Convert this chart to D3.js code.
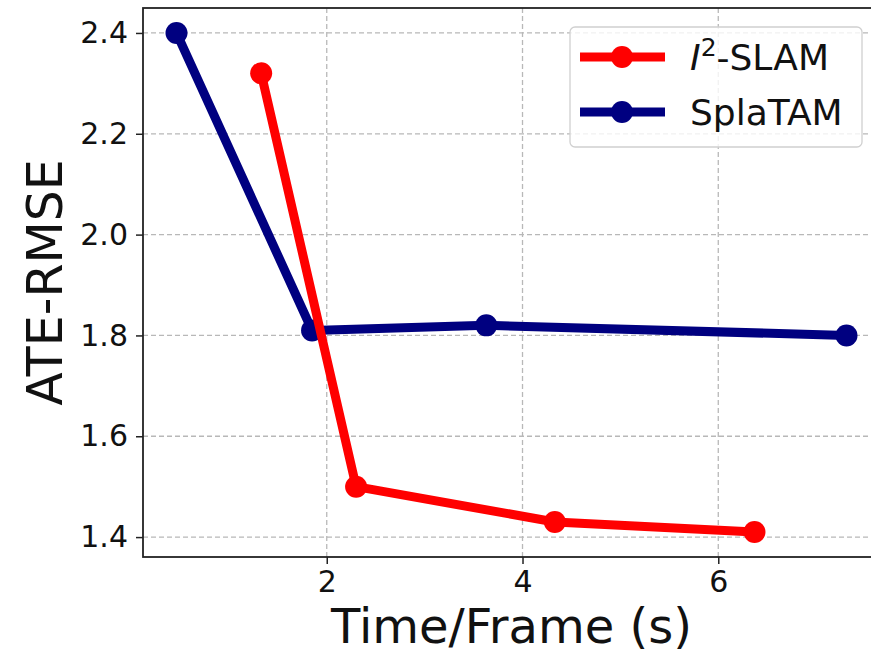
<!DOCTYPE html>
<html>
<head>
<meta charset="utf-8">
<script src="https://cdn.jsdelivr.net/npm/d3@7"></script>
<style>
  html, body { margin: 0; padding: 0; background: #fff; }
  svg { display: block; font-family: "DejaVu Sans", sans-serif; }
</style>
</head>
<body>
<div id="chart"></div>
<script>
// === DATA ===
const i2slamTime = [1.33, 2.30, 4.33, 6.37];
const i2slamAte = [2.32, 1.50, 1.43, 1.41];
const splatamTime = [0.465, 1.85, 3.63, 7.31];
const splatamAte = [2.40, 1.81, 1.82, 1.80];
const xTicks = [2, 4, 6];
const yTicks = [1.4, 1.6, 1.8, 2.0, 2.2, 2.4];

// blue drawn first, red on top
const series = [
    { x: splatamTime, y: splatamAte, color: "#000080" },
    { x: i2slamTime, y: i2slamAte, color: "#ff0000" }
];

// === LAYOUT ===
const W = 871, H = 655;
const plotL = 143, plotR = 880, plotT = 8, plotB = 557;

const svg = d3.select("#chart").append("svg")
    .attr("width", W)
    .attr("height", H);

// matplotlib-like 5% margins
const allX = splatamTime.concat(i2slamTime);
const allY = splatamAte.concat(i2slamAte);
const [x0, x1] = d3.extent(allX);
const [y0, y1] = d3.extent(allY);
const mx = (x1 - x0) * 0.05, my = (y1 - y0) * 0.05;

const x = d3.scaleLinear().domain([x0 - mx, x1 + mx]).range([plotL, plotR]);
const y = d3.scaleLinear().domain([y0 - my, y1 + my]).range([plotB, plotT]);

// === GRID ===
const grid = svg.append("g")
    .attr("stroke", "#b8b8b8")
    .attr("stroke-width", 1.3)
    .attr("stroke-dasharray", "5,3");

grid.selectAll(".gx").data(xTicks).join("line")
    .attr("x1", d => x(d)).attr("x2", d => x(d))
    .attr("y1", plotT).attr("y2", plotB);

grid.selectAll(".gy").data(yTicks).join("line")
    .attr("x1", plotL).attr("x2", plotR)
    .attr("y1", d => y(d)).attr("y2", d => y(d));

// === AXES ===
const xAxis = svg.append("g")
    .attr("transform", `translate(0,${plotB})`)
    .call(d3.axisBottom(x).tickValues(xTicks).tickFormat(d3.format("d")).tickSizeOuter(0).tickSize(7).tickPadding(7));

const yAxis = svg.append("g")
    .attr("transform", `translate(${plotL},0)`)
    .call(d3.axisLeft(y).tickValues(yTicks).tickFormat(d3.format(".1f")).tickSizeOuter(0).tickSize(7).tickPadding(8));

[xAxis, yAxis].forEach(a => {
    a.select(".domain").remove();
    a.selectAll(".tick line").attr("stroke", "#222").attr("stroke-width", 1.5);
    a.selectAll(".tick text")
        .attr("fill", "#111")
        .style("font-family", "DejaVu Sans")
        .style("font-size", "30px");
});

// frame (right spine falls outside the picture)
svg.append("rect")
    .attr("x", plotL).attr("y", plotT)
    .attr("width", plotR - plotL).attr("height", plotB - plotT)
    .attr("fill", "none")
    .attr("stroke", "#222")
    .attr("stroke-width", 1.8);

// axis titles
svg.append("text")
    .attr("x", (plotL + plotR) / 2)
    .attr("y", 643)
    .attr("text-anchor", "middle")
    .style("font-size", "48px")
    .attr("fill", "#111")
    .text("Time/Frame (s)");

svg.append("text")
    .attr("transform", `translate(62,${(plotT + plotB) / 2}) rotate(-90)`)
    .attr("text-anchor", "middle")
    .style("font-size", "49px")
    .attr("fill", "#111")
    .text("ATE-RMSE");

// === LINES ===
const line = d3.line();

series.forEach(s => {
    const pts = s.x.map((v, i) => [x(v), y(s.y[i])]);
    const g = svg.append("g");
    g.append("path")
        .attr("d", line(pts))
        .attr("fill", "none")
        .attr("stroke", s.color)
        .attr("stroke-width", 9)
        .attr("stroke-linejoin", "round");
    g.selectAll("circle").data(pts).join("circle")
        .attr("cx", d => d[0])
        .attr("cy", d => d[1])
        .attr("r", 11)
        .attr("fill", s.color);
});

// === LEGEND ===
const legend = svg.append("g");
legend.append("rect")
    .attr("x", 570).attr("y", 27)
    .attr("width", 292).attr("height", 120)
    .attr("rx", 5)
    .attr("fill", "#fff")
    .attr("fill-opacity", 0.8)
    .attr("stroke", "#d0d0d0")
    .attr("stroke-width", 1.3);

const legendItems = [
    { color: "#ff0000", cy: 57 },
    { color: "#000080", cy: 112 }
];

legendItems.forEach(d => {
    legend.append("line")
        .attr("x1", 580).attr("x2", 665)
        .attr("y1", d.cy).attr("y2", d.cy)
        .attr("stroke", d.color)
        .attr("stroke-width", 9);
    legend.append("circle")
        .attr("cx", 622).attr("cy", d.cy)
        .attr("r", 11)
        .attr("fill", d.color);
});

const t1 = legend.append("text")
    .attr("x", 690).attr("y", 57 + 13)
    .style("font-size", "36px")
    .attr("fill", "#111");
t1.append("tspan").style("font-style", "italic").text("I");
t1.append("tspan").attr("dy", -14).style("font-size", "25px").text("2");
t1.append("tspan").attr("dy", 14).text("-SLAM");

legend.append("text")
    .attr("x", 690).attr("y", 112 + 13)
    .style("font-size", "36px")
    .attr("fill", "#111")
    .text("SplaTAM");
</script>
</body>
</html>
